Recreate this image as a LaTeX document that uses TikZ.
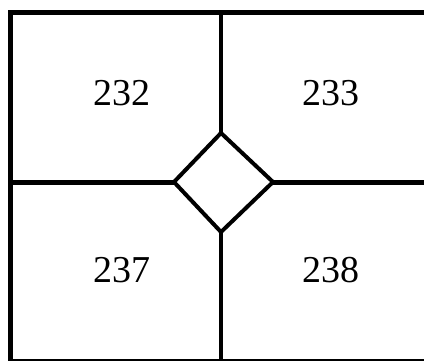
\documentclass[tikz,border=0pt]{standalone}
\usepackage{fontspec}
\setmainfont{Liberation Serif}
\begin{document}
\begin{tikzpicture}[x=1pt,y=-1pt,
  outerline/.style={line width=5pt},
  innerline/.style={line width=4pt},
  lbl/.style={font=\fontsize{38}{40}\selectfont, inner sep=0pt}]
\useasboundingbox (0,0) rectangle (424,360);
\coordinate (dt) at (221,133);
\coordinate (dl) at (174,182);
\coordinate (dr) at (273,182);
\coordinate (db) at (221,232);
\coordinate (tt) at (221,12.5);
\coordinate (bb) at (221,361.5);
\coordinate (ll) at (10,182);
\coordinate (rr) at (430,182);
\draw[innerline] (tt) -- (dt);
\draw[innerline] (db) -- (bb);
\draw[outerline] (ll) -- (dl);
\draw[outerline] (dr) -- (rr);
\draw[innerline, line join=miter] (dt) -- (dr) -- (db) -- (dl) -- cycle;
\draw[outerline] (430,12.5) -- (10,12.5) -- (10,361.5) -- (430,361.5);
\node[lbl] (a) at (122,93) {232};
\node[lbl] (b) at (331,93) {233};
\node[lbl] (c) at (122,270) {237};
\node[lbl] (d) at (331,270) {238};
\end{tikzpicture}
\end{document}
